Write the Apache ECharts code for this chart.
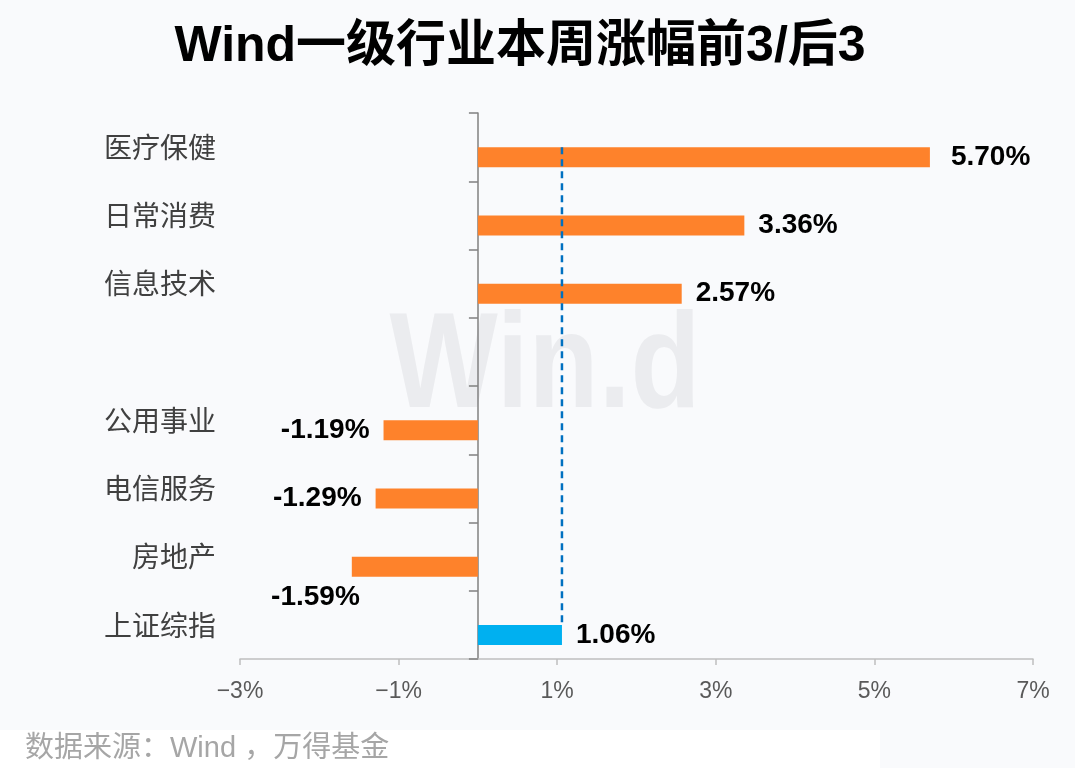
<!DOCTYPE html>
<html>
<head>
<meta charset="utf-8">
<script src="https://cdn.jsdelivr.net/npm/echarts@6/dist/echarts.min.js"></script>
<style>
html,body{margin:0;padding:0;background:#f9fafc;}
#chart{width:1075px;height:768px;}
</style>
</head>
<body>
<div id="chart"></div>
<script>
var titleText = 'Wind一级行业本周涨幅前3/后3';
var sourceText = '数据来源：Wind ，万得基金';
var categories = ['医疗保健', '日常消费', '信息技术', '', '公用事业', '电信服务', '房地产', '上证综指'];
var values = [5.70, 3.36, 2.57, null, -1.19, -1.29, -1.59, 1.06];
var indexName = '上证综指';
var indexValue = 1.06;
var xMin = -3, xMax = 7, xStep = 2;

var ORANGE = '#fe822b', BLUE = '#00b0f0';
var LATIN = "'Liberation Sans','Noto Sans CJK SC',sans-serif";

var barData = values.map(function (v, i) {
  if (v === null) return '-';
  var item = {
    value: v,
    itemStyle: { color: categories[i] === indexName ? BLUE : ORANGE },
    label: { position: v < 0 ? 'left' : 'right' }
  };
  if (v === 5.70) item.label.distance = 21;
  if (categories[i] === '房地产') item.label.offset = [22, 31];
  return item;
});

var chart = echarts.init(document.getElementById('chart'));
chart.setOption({
  backgroundColor: '#f9fafc',
  animation: false,
  grid: { left: 240, right: 42, top: 113, bottom: 109, outerBoundsMode: 'none', containLabel: false },
  xAxis: {
    type: 'value', min: xMin, max: xMax, interval: xStep,
    axisLine: { show: true, lineStyle: { color: '#bfbfbf', width: 1.5 } },
    axisTick: { show: true, length: 6, lineStyle: { color: '#bfbfbf', width: 1.5 } },
    splitLine: { show: false },
    axisLabel: {
      margin: 21, fontSize: 23, color: '#595959',
      fontFamily: "'Liberation Sans',sans-serif",
      formatter: function (v) { return (v < 0 ? '\u2212' : '') + Math.abs(v) + '%'; }
    }
  },
  yAxis: {
    type: 'category', data: categories, inverse: true,
    axisLine: { show: true, onZero: true, lineStyle: { color: '#808080', width: 1.5 } },
    axisTick: { show: true, length: 9, lineStyle: { color: '#808080', width: 1.5 } },
    axisLabel: {
      margin: 24, fontSize: 28, color: '#404040',
      fontFamily: "'Noto Sans CJK SC',sans-serif"
    }
  },
  graphic: [
    { type: 'text', z: -10, x: 545, y: 370, scaleX: 0.85, originX: 0, originY: 0,
      style: { text: 'Win.d', fill: '#ebecef', font: "bold 135px 'Liberation Sans',sans-serif",
        textAlign: 'center', textVerticalAlign: 'middle' } },
    { type: 'text', x: 520, y: 47,
      style: { text: titleText, fill: '#000', font: "bold 50px " + LATIN,
        textAlign: 'center', textVerticalAlign: 'middle' } },
    { type: 'rect', shape: { x: 0, y: 730, width: 880, height: 38 }, style: { fill: '#ffffff' } },
    { type: 'text', x: 25, y: 749,
      style: { text: sourceText, fill: '#a6a6a6', font: "29px 'Liberation Sans','Noto Sans CJK SC',sans-serif",
        textAlign: 'left', textVerticalAlign: 'middle' } }
  ],
  series: [
    { type: 'bar', name: 'pad', data: categories.map(function () { return '-'; }),
      barWidth: 20, barGap: 0, silent: true },
    { type: 'bar', name: 'value', data: barData, barWidth: 20, barGap: 0,
      label: {
        show: true, distance: 14, fontSize: 28, fontWeight: 'bold', color: '#000',
        fontFamily: LATIN,
        formatter: function (p) { return p.value.toFixed(2) + '%'; }
      }
    },
    { type: 'line', name: 'index', data: [[indexValue, categories[0]], [indexValue, indexName]],
      symbol: 'none', silent: true, z: 3,
      lineStyle: { color: '#0070c0', type: [7, 5], width: 2.5 } }
  ]
});
</script>
</body>
</html>
